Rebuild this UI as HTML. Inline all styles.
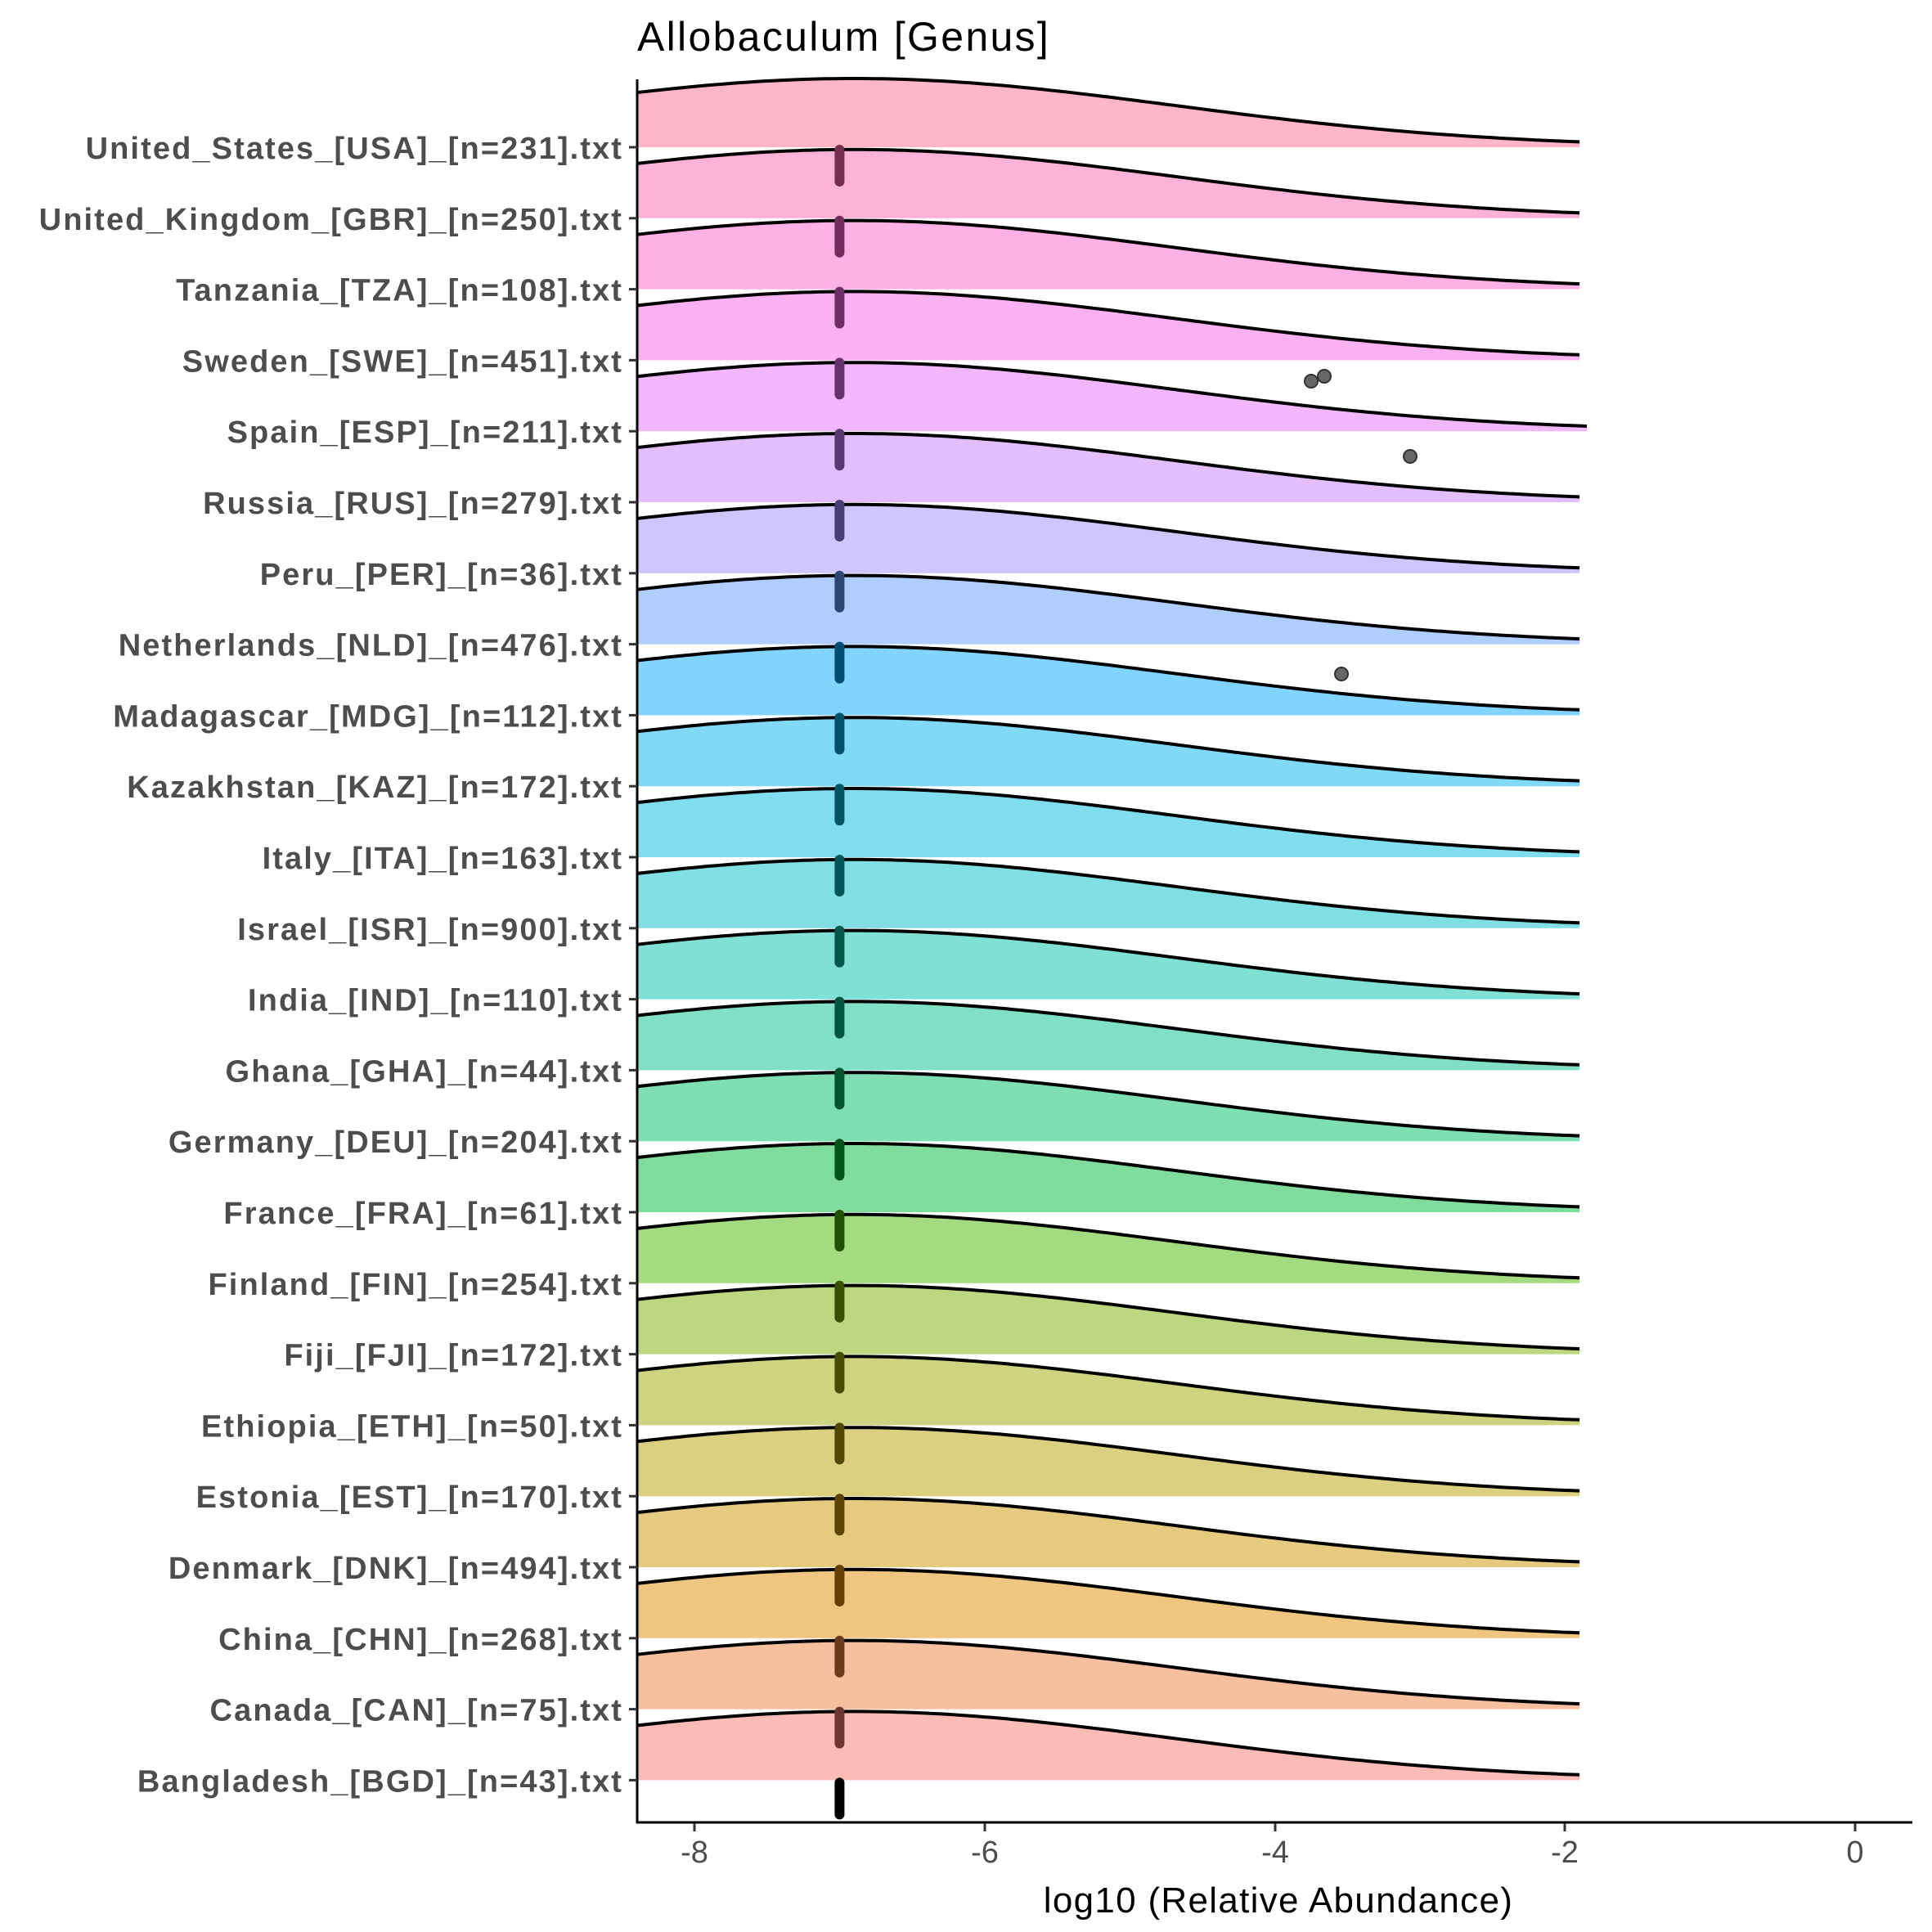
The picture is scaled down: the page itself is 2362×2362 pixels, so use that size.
<!DOCTYPE html>
<html><head><meta charset="utf-8">
<style>
html,body{margin:0;padding:0;background:#fff;}
svg{display:block;}
.lab{font-family:"Liberation Sans",sans-serif;font-weight:bold;font-size:38px;fill:#4D4D4D;letter-spacing:2.1px;}
.tick{font-family:"Liberation Sans",sans-serif;font-size:38px;fill:#4D4D4D;}
</style></head>
<body>
<svg id="s" width="2362" height="2362" viewBox="0 0 2362 2362" xmlns="http://www.w3.org/2000/svg">
<rect width="2362" height="2362" fill="#fff"/>
<g id="ridges"></g>
<g id="bars"></g>
<g fill="#666" stroke="#333" stroke-width="2">
<circle cx="1603" cy="466" r="8"/><circle cx="1619" cy="460" r="8"/>
<circle cx="1724" cy="558" r="8"/><circle cx="1640" cy="824" r="8"/>
</g>
<line x1="779" y1="97" x2="779" y2="2229" stroke="#000" stroke-width="3"/>
<line x1="778" y1="2228" x2="2338" y2="2228" stroke="#000" stroke-width="3"/>
<g id="yt"></g>
<g stroke="#333" stroke-width="3">
<line x1="849" y1="2229" x2="849" y2="2239"/><line x1="1204" y1="2229" x2="1204" y2="2239"/>
<line x1="1559" y1="2229" x2="1559" y2="2239"/><line x1="1913" y1="2229" x2="1913" y2="2239"/>
<line x1="2268" y1="2229" x2="2268" y2="2239"/>
</g>
<g class="tick" text-anchor="middle">
<text x="849" y="2277">-8</text><text x="1204" y="2277">-6</text><text x="1559" y="2277">-4</text>
<text x="1913" y="2277">-2</text><text x="2268" y="2277">0</text>
</g>
<text x="1563" y="2338" text-anchor="middle" font-family="Liberation Sans, sans-serif" font-size="44" letter-spacing="1.3" fill="#000">log10 (Relative Abundance)</text>
<text x="779" y="62" font-family="Liberation Sans, sans-serif" font-size="50" letter-spacing="2.3" fill="#000">Allobaculum [Genus]</text>
<g class="lab" text-anchor="end" id="labs">
<text>United_States_[USA]_[n=231].txt</text>
<text>United_Kingdom_[GBR]_[n=250].txt</text>
<text>Tanzania_[TZA]_[n=108].txt</text>
<text>Sweden_[SWE]_[n=451].txt</text>
<text>Spain_[ESP]_[n=211].txt</text>
<text>Russia_[RUS]_[n=279].txt</text>
<text>Peru_[PER]_[n=36].txt</text>
<text>Netherlands_[NLD]_[n=476].txt</text>
<text>Madagascar_[MDG]_[n=112].txt</text>
<text>Kazakhstan_[KAZ]_[n=172].txt</text>
<text>Italy_[ITA]_[n=163].txt</text>
<text>Israel_[ISR]_[n=900].txt</text>
<text>India_[IND]_[n=110].txt</text>
<text>Ghana_[GHA]_[n=44].txt</text>
<text>Germany_[DEU]_[n=204].txt</text>
<text>France_[FRA]_[n=61].txt</text>
<text>Finland_[FIN]_[n=254].txt</text>
<text>Fiji_[FJI]_[n=172].txt</text>
<text>Ethiopia_[ETH]_[n=50].txt</text>
<text>Estonia_[EST]_[n=170].txt</text>
<text>Denmark_[DNK]_[n=494].txt</text>
<text>China_[CHN]_[n=268].txt</text>
<text>Canada_[CAN]_[n=75].txt</text>
<text>Bangladesh_[BGD]_[n=43].txt</text>
</g>
</svg>
<script>
(function(){
var NS="http://www.w3.org/2000/svg";
var SP=86.8,B0=180;
function X(v){return 849+(v+8)*177.4;}
function hcl(h,c,l){
  var hr=h*Math.PI/180,U=c*Math.cos(hr),V=c*Math.sin(hr);
  var Xn=95.047,Yn=100,Zn=108.883;
  var un=4*Xn/(Xn+15*Yn+3*Zn),vn=9*Yn/(Xn+15*Yn+3*Zn);
  var Y=l>8?Yn*Math.pow((l+16)/116,3):Yn*l/903.3;
  var u=U/(13*l)+un,v=V/(13*l)+vn;
  var x=9*Y*u/(4*v),z=(12-3*u-20*v)*Y/(4*v);
  x/=100;Y/=100;z/=100;
  var r=3.2406*x-1.5372*Y-0.4986*z,g=-0.9689*x+1.8758*Y+0.0415*z,b=0.0557*x-0.2040*Y+1.0570*z;
  function gm(t){t=t<=0.0031308?12.92*t:1.055*Math.pow(t,1/2.4)-0.055;return Math.max(0,Math.min(1,t));}
  return [gm(r),gm(g),gm(b)];
}
var n=24,rg=document.getElementById('ridges'),bg=document.getElementById('bars'),yt=document.getElementById('yt');
var labs=document.getElementById('labs').getElementsByTagName('text');
for(var i=0;i<n;i++){
  var base=B0+i*SP;
  labs[i].setAttribute('x',762);labs[i].setAttribute('y',(base+14).toFixed(1));
  var k=n-1-i;
  var c=hcl(15+360*k/n,100,65);
  var fill='rgb('+c.map(function(t){return Math.round((t*0.5+0.5)*255);}).join(',')+')';
  var xe=(i==4)?-1.85:-1.9;
  var pts=[];
  for(var v=-8.4;v<=xe+1e-9;v+=0.05){
    var y=base-84*Math.exp(-Math.pow(v+6.9,2)/(2*4.9));
    pts.push(X(v).toFixed(1)+','+y.toFixed(1));
  }
  var ve=X(xe),yend=base-84*Math.exp(-Math.pow(xe+6.9,2)/(2*4.9));
  pts.push(ve.toFixed(1)+','+yend.toFixed(1));
  var poly=document.createElementNS(NS,'polygon');
  poly.setAttribute('points',pts.join(' ')+' '+ve.toFixed(1)+','+base+' 779,'+base);
  poly.setAttribute('fill',fill);
  var pl=document.createElementNS(NS,'polyline');
  pl.setAttribute('points',pts.join(' '));
  pl.setAttribute('fill','none');pl.setAttribute('stroke','#000');pl.setAttribute('stroke-width','4');
  rg.appendChild(poly);rg.appendChild(pl);
  var t=document.createElementNS(NS,'line');
  t.setAttribute('x1',769);t.setAttribute('x2',779);t.setAttribute('y1',base);t.setAttribute('y2',base);
  t.setAttribute('stroke','#333');t.setAttribute('stroke-width','3');yt.appendChild(t);
}
for(var i=1;i<=n;i++){
  var b=B0+(i-1)*SP,kk=n-1-i,col;
  if(i==n)col='#000';else{var cc=hcl(15+360*kk/n,100,65);col='rgb('+cc.map(function(t){return Math.round(t*0.45*255);}).join(',')+')';}
  var l=document.createElementNS(NS,'line');
  l.setAttribute('x1',X(-7));l.setAttribute('x2',X(-7));
  l.setAttribute('y1',b+3);l.setAttribute('y2',b+42);
  l.setAttribute('stroke',col);l.setAttribute('stroke-width','12');l.setAttribute('stroke-linecap','round');
  bg.appendChild(l);
}
})();
</script>
</body></html>
